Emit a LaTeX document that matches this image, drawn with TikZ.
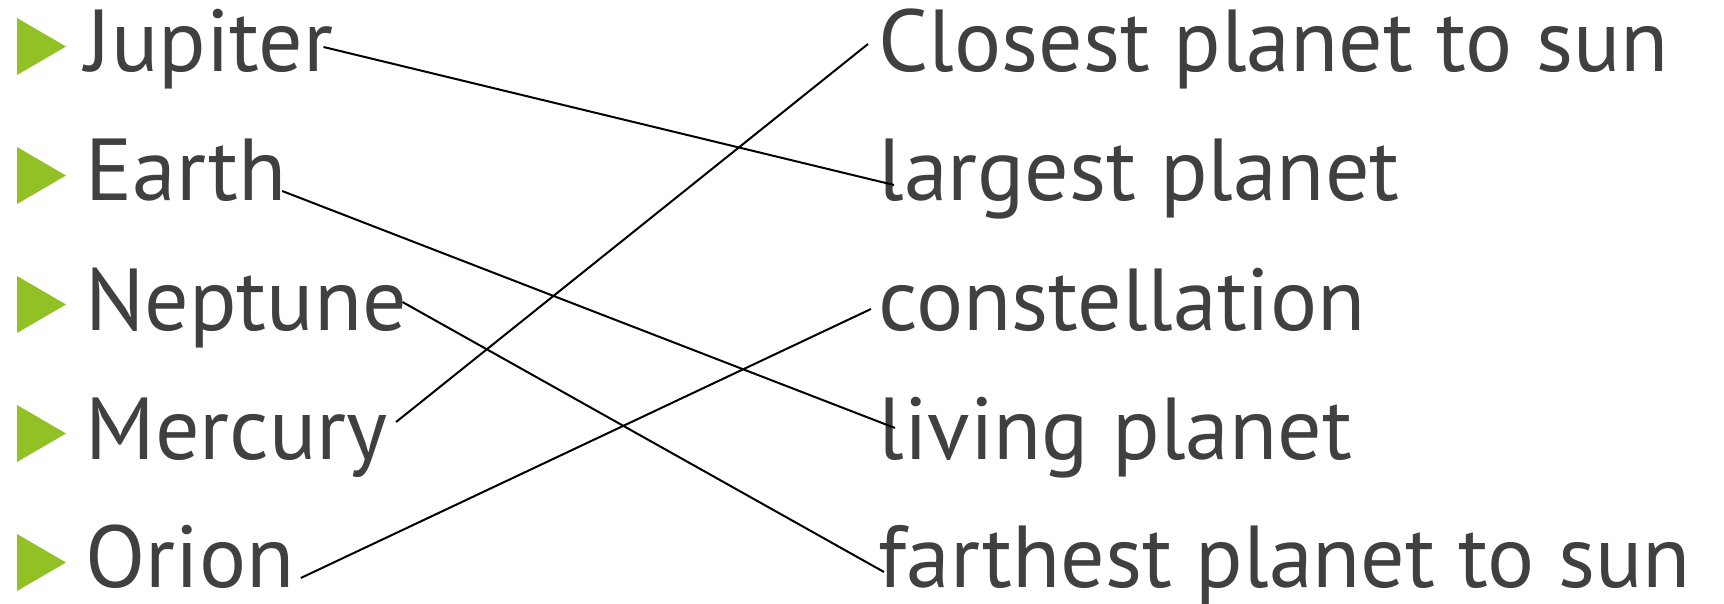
\documentclass[tikz,border=0pt]{standalone}
\usepackage{xcolor}
\usepackage{fontspec}
\setmainfont{PT Sans}
\usepackage{tikz}
\usetikzlibrary{positioning,calc}
\definecolor{slidegray}{HTML}{404040}
\definecolor{slidegreen}{HTML}{92C125}

\begin{document}
\begin{tikzpicture}[x=0.5pt,y=-0.5pt,every node/.style={inner sep=0pt,anchor=base west,text=slidegray,font=\fontsize{44}{44}\selectfont},bullet/.style={fill=slidegreen},link/.style={draw,line width=1pt,black}]
	\useasboundingbox (0,0) rectangle (1724,604);
	% bullets
	\foreach \y in {46.5,175.5,304.5,433.5,562.5}
		\fill[bullet] (17,\y-28.5) -- (66,\y) -- (17,\y+28.5) -- cycle;
	% left column
	\node (jupiter) at (85,72) {Jupiter};
	\node (earth) at (85,201) {Earth};
	\node (neptune) at (85,330) {Neptune};
	\node (mercury) at (85,459) {Mercury};
	\node (orion) at (85,587) {Orion};
	% right column
	\node (closest) at (878,72) {Closest planet to sun};
	\node (largest) at (878,201) {largest planet};
	\node (constell) at (878,330) {constellation};
	\node (living) at (878,459) {living planet};
	\node (farthest) at (878,587) {farthest planet to sun};
	% matching lines
	\draw[link] ([shift={(-10,-25)}]jupiter.base east) -- ([shift={(16,-16)}]largest.base west);
	\draw[link] ([shift={(-5,-10)}]earth.base east) -- ([shift={(17,-31)}]living.base west);
	\draw[link] ([shift={(-5,-28)}]neptune.base east) -- ([shift={(6,-15)}]farthest.base west);
	\draw[link] ([shift={(8,-37)}]mercury.base east) -- ([shift={(-10,-28)}]closest.base west);
	\draw[link] ([shift={(6,-9)}]orion.base east) -- ([shift={(-7,-21)}]constell.base west);
\end{tikzpicture}
\end{document}
